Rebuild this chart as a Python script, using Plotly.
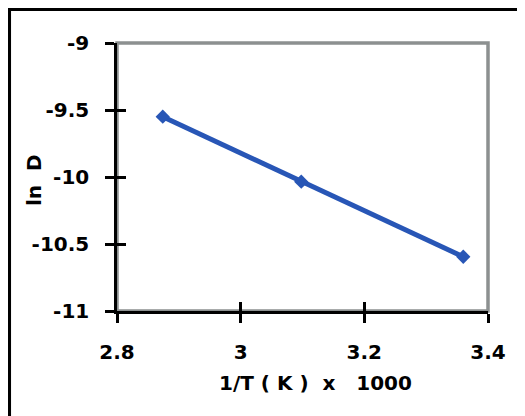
import plotly.graph_objects as go

inv_T = [2.874, 3.098, 3.360]
ln_D = [-9.55, -10.035, -10.595]

x_ticks = [2.8, 3.0, 3.2, 3.4]
x_ticktext = ["2.8", "3", "3.2", "3.4"]
y_ticks = [-11, -10.5, -10, -9.5, -9]
y_ticktext = ["-11", "-10.5", "-10", "-9.5", "-9"]

x_title = "1/T\u00a0(\u00a0K\u00a0)\u00a0\u00a0x\u00a0\u00a0\u00a01000"
y_title = "ln\u00a0\u00a0D"

blue = "rgb(40,86,182)"
font = dict(family="DejaVu Sans, Liberation Sans, sans-serif", size=20, color="black", weight="bold")

fig = go.Figure()
fig.add_trace(go.Scatter(
    x=inv_T, y=ln_D, mode="lines+markers",
    line=dict(color=blue, width=5),
    marker=dict(symbol="diamond", size=11, color=blue),
    showlegend=False, cliponaxis=False,
))
# invisible trace on overlay axes (for inner tick halves)
fig.add_trace(go.Scatter(x=[2.8], y=[-11], xaxis="x2", yaxis="y2", mode="markers",
                         marker=dict(opacity=0), showlegend=False, hoverinfo="skip"))

fig.update_layout(
    width=517, height=408,
    margin=dict(l=109, r=37, t=35, b=105, autoexpand=False),
    paper_bgcolor="white", plot_bgcolor="white",
    font=font,
    xaxis=dict(range=[2.8, 3.4], tickvals=x_ticks, ticktext=x_ticktext, automargin=False,
               showgrid=False, zeroline=False, showline=True, linecolor="black", linewidth=2.5,
               ticks="outside", ticklen=9, tickwidth=2.5, tickcolor="black",
               ticklabelstandoff=12, tickfont=font),
    yaxis=dict(range=[-11, -9], tickvals=y_ticks, ticktext=y_ticktext, automargin=False,
               showgrid=False, zeroline=False, showline=True, linecolor="black", linewidth=2.5,
               ticks="outside", ticklen=9, tickwidth=2.5, tickcolor="black",
               ticklabelstandoff=12, tickfont=font),
    xaxis2=dict(overlaying="x", range=[2.8, 3.4], tickvals=x_ticks, showticklabels=False,
                showgrid=False, zeroline=False, showline=False, automargin=False,
                ticks="inside", ticklen=9, tickwidth=2.5, tickcolor="black", side="bottom"),
    yaxis2=dict(overlaying="y", range=[-11, -9], tickvals=y_ticks, showticklabels=False,
                showgrid=False, zeroline=False, showline=False, automargin=False,
                ticks="inside", ticklen=9, tickwidth=2.5, tickcolor="black", side="left"),
    annotations=[
        dict(text=y_title, textangle=-90, xref="paper", yref="paper",
             x=0, y=0.5, xanchor="center", yanchor="middle", xshift=-83, yshift=-3,
             showarrow=False, font=font),
        dict(text=x_title, xref="paper", yref="paper",
             x=0.5, y=0, xanchor="center", yanchor="middle", xshift=13, yshift=-72,
             showarrow=False, font=font),
    ],
    shapes=[
        dict(type="rect", xref="paper", yref="paper", x0=0, x1=1, y0=0, y1=1,
             line=dict(color="rgb(140,144,144)", width=3.5), layer="below"),
        dict(type="rect", xref="paper", yref="paper", x0=-0.291, x1=1.3, y0=-0.6, y1=1.127,
             line=dict(color="black", width=4), fillcolor="rgba(0,0,0,0)", layer="below"),
    ],
)

fig.write_html("out.html")
